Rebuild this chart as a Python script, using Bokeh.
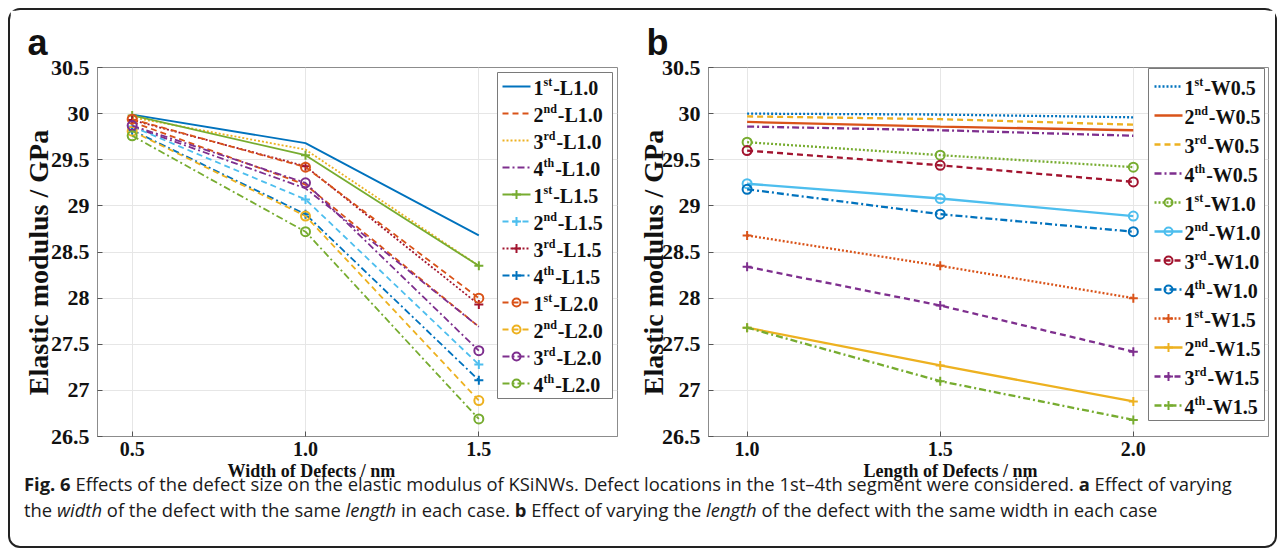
from bokeh.plotting import figure
from bokeh.layouts import column, row
from bokeh.models import Range1d, FixedTicker, Div, Title
from bokeh.core.properties import value
from bokeh.embed import file_html
from bokeh.resources import INLINE

# ---------------- data ----------------
# panel a: x = width of defects (nm)
width_nm = [0.5, 1.0, 1.5]
a_1st_L10 = [29.99, 29.68, 28.68]
a_2nd_L10 = [29.91, 29.23, 27.69]
a_3rd_L10 = [29.96, 29.61, 28.35]
a_4th_L10 = [29.86, 29.19, 27.69]
a_1st_L15 = [29.98, 29.55, 28.35]
a_2nd_L15 = [29.86, 29.07, 27.28]
a_3rd_L15 = [29.93, 29.43, 27.93]
a_4th_L15 = [29.82, 28.91, 27.11]
a_1st_L20 = [29.94, 29.42, 28.00]
a_2nd_L20 = [29.81, 28.89, 26.89]
a_3rd_L20 = [29.87, 29.25, 27.43]
a_4th_L20 = [29.76, 28.72, 26.69]
a_labels = ["1st-L1.0", "2nd-L1.0", "3rd-L1.0", "4th-L1.0",
            "1st-L1.5", "2nd-L1.5", "3rd-L1.5", "4th-L1.5",
            "1st-L2.0", "2nd-L2.0", "3rd-L2.0", "4th-L2.0"]

# panel b: x = length of defects (nm)
length_nm = [1.0, 1.5, 2.0]
b_1st_W05 = [30.00, 29.99, 29.96]
b_2nd_W05 = [29.91, 29.86, 29.82]
b_3rd_W05 = [29.97, 29.94, 29.88]
b_4th_W05 = [29.86, 29.82, 29.76]
b_1st_W10 = [29.69, 29.55, 29.42]
b_2nd_W10 = [29.24, 29.08, 28.89]
b_3rd_W10 = [29.60, 29.44, 29.26]
b_4th_W10 = [29.18, 28.91, 28.72]
b_1st_W15 = [28.68, 28.35, 28.00]
b_2nd_W15 = [27.68, 27.27, 26.88]
b_3rd_W15 = [28.34, 27.92, 27.42]
b_4th_W15 = [27.68, 27.10, 26.68]
b_labels = ["1st-W0.5", "2nd-W0.5", "3rd-W0.5", "4th-W0.5",
            "1st-W1.0", "2nd-W1.0", "3rd-W1.0", "4th-W1.0",
            "1st-W1.5", "2nd-W1.5", "3rd-W1.5", "4th-W1.5"]

a_xticks = [0.5, 1.0, 1.5]
a_xtick_labels = ["0.5", "1.0", "1.5"]
b_xticks = [1.0, 1.5, 2.0]
b_xtick_labels = ["1.0", "1.5", "2.0"]
yticks = [26.5, 27.0, 27.5, 28.0, 28.5, 29.0, 29.5, 30.0, 30.5]
ytick_labels = ["26.5", "27", "27.5", "28", "28.5", "29", "29.5", "30", "30.5"]
ylabel = "Elastic modulus / GPa"

# ---------------- styles ----------------
BLUE, RED, YEL, PUR, GRN, CYAN, DRED = "#0072BD", "#D95319", "#EDB120", "#7E2F8E", "#77AC30", "#4DBEEE", "#A2142F"
SOLID, DASH, DOT, DASHDOT = "solid", "6 4", "2 2", "7 3 2 3"

a_series = [a_1st_L10, a_2nd_L10, a_3rd_L10, a_4th_L10, a_1st_L15, a_2nd_L15,
            a_3rd_L15, a_4th_L15, a_1st_L20, a_2nd_L20, a_3rd_L20, a_4th_L20]
a_colors = [BLUE, RED, YEL, PUR, GRN, CYAN, DRED, BLUE, RED, YEL, PUR, GRN]
a_dashes = [SOLID, DASH, DOT, DASHDOT, SOLID, DASH, DOT, DASHDOT, DASH, DASH, DASHDOT, DASHDOT]
a_markers = [None, None, None, None, "cross", "cross", "cross", "cross", "circle", "circle", "circle", "circle"]

b_series = [b_1st_W05, b_2nd_W05, b_3rd_W05, b_4th_W05, b_1st_W10, b_2nd_W10,
            b_3rd_W10, b_4th_W10, b_1st_W15, b_2nd_W15, b_3rd_W15, b_4th_W15]
b_colors = [BLUE, RED, YEL, PUR, GRN, CYAN, DRED, BLUE, RED, YEL, PUR, GRN]
b_dashes = [DOT, SOLID, DASH, DASHDOT, DOT, SOLID, DASH, DASHDOT, DOT, SOLID, DASH, DASHDOT]
b_markers = [None, None, None, None, "circle", "circle", "circle", "circle", "cross", "cross", "cross", "cross"]

SERIF = "Liberation Serif"
FRAME_H = 369
GRID = "#e6e6e6"
AXC = "#8c8c8c"
INK = "#111111"

# approximate advance widths (em) of Times-bold glyphs for legend layout
ADV = {"1": .5, "2": .5, "3": .5, "4": .5, "s": .389, "t": .333, "n": .556,
       "d": .556, "r": .444, "h": .556}


def make_panel(letter, xs, series, colors, dashes, markers, labels, xr, xticks, xtick_labels,
               xlabel, xlabel_off, ylabel_standoff, frame_w, mb_left, mb_right, title_off, lw,
               leg_box, leg_y0, leg_dy, leg_line, leg_text_x, leg_fs):
    p = figure(x_range=Range1d(*xr), y_range=Range1d(26.5, 30.5),
               frame_width=frame_w, frame_height=FRAME_H,
               min_border_left=mb_left, min_border_right=mb_right,
               min_border_top=57, min_border_bottom=49,
               output_backend="svg", toolbar_location=None)
    p.background_fill_color = "white"
    p.border_fill_color = "white"
    p.outline_line_color = AXC
    p.outline_line_width = 1

    p.title.text = letter
    p.title.text_font = "Liberation Sans"
    p.title.text_font_size = "36px"
    p.title.text_font_style = "bold"
    p.title.text_color = INK
    p.title.align = "left"
    p.title.offset = title_off
    p.title.standoff = 10

    for ax in (p.xaxis[0], p.yaxis[0]):
        ax.major_label_text_font = SERIF
        ax.major_label_text_font_style = "bold"
        ax.major_label_text_color = INK
        ax.axis_line_color = AXC
        ax.major_tick_line_color = "#555555"
        ax.major_tick_in = 5
        ax.major_tick_out = 0
        ax.minor_tick_line_color = None

    p.xaxis.ticker = FixedTicker(ticks=xticks)
    p.xaxis.major_label_overrides = dict(zip(xticks, xtick_labels))
    p.xaxis.major_label_text_font_size = "20px"
    p.xaxis.major_label_standoff = 5

    p.yaxis.ticker = FixedTicker(ticks=yticks)
    p.yaxis.major_label_overrides = dict(zip(yticks, ytick_labels))
    p.yaxis.major_label_text_font_size = "22px"
    p.yaxis.major_label_standoff = 8
    # trailing no-break spaces push the centred label down like the MATLAB one
    p.yaxis.axis_label = ylabel + "\u00a0\u00a0\u00a0"
    p.yaxis.axis_label_text_font = SERIF
    p.yaxis.axis_label_text_font_style = "bold"
    p.yaxis.axis_label_text_font_size = "28px"
    p.yaxis.axis_label_text_color = INK
    p.yaxis.axis_label_standoff = ylabel_standoff

    # x-axis title, centred under the middle tick as in the original
    p.add_layout(Title(text=xlabel, align="left", offset=xlabel_off, standoff=0,
                       text_font=SERIF, text_font_style="bold", text_font_size="18px",
                       text_color=INK), "below")

    p.xgrid.ticker = FixedTicker(ticks=xticks)
    p.ygrid.ticker = FixedTicker(ticks=yticks)
    p.grid.grid_line_color = GRID
    p.grid.grid_line_width = 1

    # data
    for ys, c, d, m in zip(series, colors, dashes, markers):
        p.line(xs, ys, line_color=c, line_width=lw, line_dash=d)
        if m == "cross":
            p.scatter(xs, ys, marker="cross", size=9, line_color=c, line_width=2)
        elif m == "circle":
            p.scatter(xs, ys, marker="circle", size=9, line_color=c, line_width=2, fill_color=None)

    # legend drawn in frame pixel space
    p.extra_x_ranges = {"lx": Range1d(0, frame_w)}
    p.extra_y_ranges = {"ly": Range1d(FRAME_H, 0)}
    bl, br, bt, bb = leg_box
    p.quad(left=[bl], right=[br], top=[bt], bottom=[bb], fill_color="white",
           line_color="#7a7a7a", line_width=1, x_range_name="lx", y_range_name="ly")
    x0, x1 = leg_line
    sup_fs = round(leg_fs * 0.62)
    for i, (lab, c, d, m) in enumerate(zip(labels, colors, dashes, markers)):
        y = leg_y0 + i * leg_dy
        p.line([x0, x1], [y, y], line_color=c, line_width=lw, line_dash=d,
               x_range_name="lx", y_range_name="ly")
        xm = (x0 + x1) / 2
        if m == "cross":
            p.scatter([xm], [y], marker="cross", size=9, line_color=c, line_width=2,
                      x_range_name="lx", y_range_name="ly")
        elif m == "circle":
            p.scatter([xm], [y], marker="circle", size=8, line_color=c, line_width=2,
                      fill_color=None, x_range_name="lx", y_range_name="ly")
        num, sup, rest = lab[0], lab[1:3], lab[3:]
        xt = leg_text_x
        p.text([xt], [y + 1], text=[num], text_font=value(SERIF), text_font_style="bold",
               text_font_size=f"{leg_fs}px", text_baseline="middle", text_align="left",
               text_color=INK, x_range_name="lx", y_range_name="ly")
        xt += ADV[num] * leg_fs
        p.text([xt], [y - 5], text=[sup], text_font=value(SERIF), text_font_style="bold",
               text_font_size=f"{sup_fs}px", text_baseline="middle", text_align="left",
               text_color=INK, x_range_name="lx", y_range_name="ly")
        xt += sum(ADV[ch] for ch in sup) * sup_fs + 1
        p.text([xt], [y + 1], text=[rest], text_font=value(SERIF), text_font_style="bold",
               text_font_size=f"{leg_fs}px", text_baseline="middle", text_align="left",
               text_color=INK, x_range_name="lx", y_range_name="ly")
    return p


pa = make_panel("a", width_nm, a_series, a_colors, a_dashes, a_markers, a_labels,
                (0.4, 1.9), a_xticks, a_xtick_labels, "Width of Defects / nm", 130, -6,
                frame_w=520, mb_left=87, mb_right=15, title_off=-70, lw=1.8,
                leg_box=(400, 515, 5, 331), leg_y0=19, leg_dy=27, leg_line=(405, 433),
                leg_text_x=436, leg_fs=20)
pb = make_panel("b", length_nm, b_series, b_colors, b_dashes, b_markers, b_labels,
                (0.9, 2.35), b_xticks, b_xtick_labels, "Length of Defects / nm", 155, -10,
                frame_w=560, mb_left=76, mb_right=7, title_off=-62, lw=2.3,
                leg_box=(440, 556, 1, 353), leg_y0=19, leg_dy=29, leg_line=(446, 474),
                leg_text_x=476, leg_fs=20)

caption_html = (
    '<div style="font-family:\'Open Sans\';font-size:18.4px;line-height:26px;color:#1a1a1a;'
    'white-space:nowrap;position:relative;top:-14px;left:14px;">'
    '<b>Fig. 6</b> Effects of the defect size on the elastic modulus of KSiNWs. Defect locations in the '
    '1st\u20134th segment were considered. <b>a</b> Effect of varying<br>'
    'the <i>width</i> of the defect with the same <i>length</i> in each case. <b>b</b> Effect of varying '
    'the <i>length</i> of the defect with the same width in each case</div>'
)
cap = Div(text=caption_html, width=1265, height=61, margin=(0, 0, 0, 0))

root = column(row(pa, pb), cap, margin=(8, 8, 8, 8),
              styles={"border": "2px solid #222222", "border-radius": "12px", "background-color": "white"})

open("out.html", "w").write(file_html(root, INLINE))
